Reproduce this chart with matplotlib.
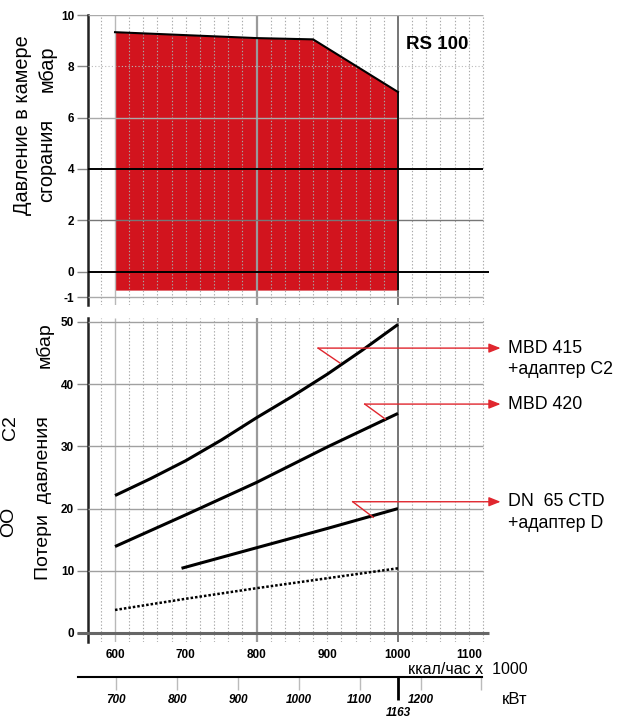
import matplotlib
matplotlib.use("Agg")
import matplotlib.pyplot as plt
import numpy as np

W, H = 623, 720
plt.rcParams['font.family'] = ['Liberation Sans', 'DejaVu Sans']
NARROW = ['Liberation Sans Narrow', 'Liberation Sans', 'DejaVu Sans']

# ---- data ----
fill_x = [600, 800, 880, 1000]
fill_top = [9.33, 9.10, 9.05, 7.0]
fill_bottom = -0.72

mbd415_x = [600, 650, 700, 750, 800, 850, 900, 950, 1000]
mbd415 = [22.1, 24.8, 27.7, 31.0, 34.6, 38.0, 41.6, 45.5, 49.6]
mbd420_x = [600, 700, 800, 900, 1000]
mbd420 = [13.9, 19.0, 24.2, 29.9, 35.3]
dn65_x = [694, 800, 900, 1000]
dn65 = [10.4, 13.7, 16.8, 20.0]
dotted_x = [600, 700, 800, 900, 1000]
dotted = [3.7, 5.5, 7.2, 8.8, 10.4]

top_yticks = [10, 8, 6, 4, 2, 0, -1]
bot_yticks = [0, 10, 20, 30, 40, 50]
kcal_ticks = [600, 700, 800, 900, 1000, 1100]
kw_ticks = [700, 800, 900, 1000, 1100, 1200, 1300]
kw_labels = ['700', '800', '900', '1000', '1100', '1200', '']
kw_mark = 1163
KW_PER_KCAL = 1.163

labels = [("MBD 415", "+адаптер C2"), ("MBD 420", None), ("DN  65 CTD", "+адаптер D")]
ann_start = [(887, 45.8), (953, 36.8), (936, 21.1)]
ann_end = [(918, 43.4), (982, 34.4), (965, 18.6)]

RED = '#d2141e'
ARROW_RED = '#e0262e'

fig = plt.figure(figsize=(W / 100, H / 100), dpi=100)

def rect(l, t, r, b):
    return [l / W, 1 - b / H, (r - l) / W, (b - t) / H]

def fx(x):
    return x / W

def fy(y):
    return 1 - y / H

XL = (561.8, 1132.9)
GRID_MAX = 1120

def vgrid(ax, y0, y1):
    for v in range(580, GRID_MAX + 1, 20):
        if v == 800:
            ax.vlines(v, y0, y1, color='#9a9a9a', lw=1.6, zorder=3)
        elif v == 1000:
            ax.vlines(v, y0, y1, color='#6a6a6a', lw=1.3, zorder=3)
        elif v == 600:
            ax.vlines(v, y0, y1, color='#b8b8b8', lw=1.0, zorder=3)
        else:
            ax.vlines(v, y0, y1, color='#a8a8a8', lw=0.8, ls=(0, (1.2, 1.8)), zorder=3)

# ---- top axes ----
ax1 = fig.add_axes(rect(88, 15, 492, 305))
ax1.set_xlim(*XL)
ax1.set_ylim(-1.3, 10.0)
for s in ['top', 'right', 'bottom']:
    ax1.spines[s].set_visible(False)
ax1.spines['left'].set_linewidth(1.8)
ax1.spines['left'].set_color('#222222')
ax1.set_xticks([])
ax1.set_yticks(top_yticks)
ax1.set_yticklabels([str(t) for t in top_yticks], family=NARROW, fontweight='bold', fontsize=8.5)
ax1.tick_params(axis='y', length=8, width=1, color='#888888', pad=2)

ax1.fill_between(fill_x, [fill_bottom] * len(fill_x), fill_top, color=RED, lw=0, zorder=2)
ax1.plot(fill_x, fill_top, color='black', lw=1.5, zorder=5)
ax1.vlines(fill_x[-1], fill_bottom, fill_top[-1], color='black', lw=1.2, zorder=5)
vgrid(ax1, -1.3, 10.0)
for v in top_yticks:
    if v in (4, 0):
        ax1.hlines(v, XL[0], 1128 if v == 0 else GRID_MAX, color='black', lw=1.4, zorder=4)
    elif v == 8:
        ax1.hlines(v, XL[0], GRID_MAX, color='#bbbbbb', lw=0.8, ls=(0, (1, 2)), zorder=4)
    elif v == 2:
        ax1.hlines(v, XL[0], GRID_MAX, color='#777777', lw=1.0, zorder=4)
    else:
        ax1.hlines(v, XL[0], GRID_MAX, color='#aaaaaa', lw=1.0, zorder=4)
ax1.text(1012, 8.85, "RS 100", fontsize=13.5, fontweight='bold', family=NARROW, ha='left', va='center')

# ---- bottom axes ----
ax2 = fig.add_axes(rect(88, 318, 492, 642))
ax2.set_xlim(*XL)
ax2.set_ylim(-1.45, 50.64)
for s in ['top', 'right', 'bottom']:
    ax2.spines[s].set_visible(False)
ax2.spines['left'].set_linewidth(1.8)
ax2.spines['left'].set_color('#222222')
ax2.set_yticks(bot_yticks)
ax2.set_yticklabels([str(t) for t in bot_yticks], family=NARROW, fontweight='bold', fontsize=8.5)
ax2.tick_params(axis='y', length=8, width=1, color='#888888', pad=2)
ax2.set_xticks(kcal_ticks)
ax2.set_xticklabels([str(t) for t in kcal_ticks], family=NARROW, fontweight='bold', fontsize=8.5)
ax2.tick_params(axis='x', length=0, pad=5)
vgrid(ax2, -1.45, 50.64)
for v in bot_yticks:
    if v == 0:
        ax2.hlines(v, XL[0] - 15, 1128, color='#666666', lw=2.2, zorder=4, clip_on=False)
    else:
        ax2.hlines(v, XL[0], GRID_MAX, color='#a0a0a0', lw=1.0, zorder=4)

ax2.plot(mbd415_x, mbd415, color='black', lw=2.2, zorder=6, solid_capstyle='butt')
ax2.plot(mbd420_x, mbd420, color='black', lw=2.2, zorder=6, solid_capstyle='butt')
ax2.plot(dn65_x, dn65, color='black', lw=2.2, zorder=6, solid_capstyle='butt')
ax2.plot(dotted_x, dotted, color='black', lw=1.8, ls=(0, (1.0, 0.8)), zorder=6)

for (lab1, lab2), (sx, sy), (ex, ey) in zip(labels, ann_start, ann_end):
    ax2.plot([sx, ex], [sy, ey], color=ARROW_RED, lw=1.0, zorder=7)
    ax2.annotate('', xy=(1145, sy), xytext=(sx, sy), annotation_clip=False,
                 arrowprops=dict(arrowstyle='-|>,head_length=0.7,head_width=0.28',
                                 color=ARROW_RED, lw=1.0, shrinkA=0, shrinkB=0), zorder=7)
    ax2.text(1156, sy, lab1, fontsize=12.8, ha='left', va='center', clip_on=False)
    if lab2:
        ax2.text(1156, sy - 3.5, lab2, fontsize=12.8, ha='left', va='center', clip_on=False)

# ---- kW axis ----
ax3 = fig.add_axes(rect(78, 676, 482, 677))
kcal_left = XL[0] - 10 / 0.7075
kcal_right = XL[0] + 394 / 0.7075
ax3.set_xlim(kcal_left * KW_PER_KCAL, kcal_right * KW_PER_KCAL)
ax3.set_ylim(0, 1)
for s in ['top', 'right', 'left']:
    ax3.spines[s].set_visible(False)
ax3.spines['bottom'].set_linewidth(1.5)
ax3.set_yticks([])
ax3.set_xticks(kw_ticks)
ax3.set_xticklabels(kw_labels, family=NARROW, fontweight='bold', style='italic', fontsize=8.5)
ax3.tick_params(axis='x', length=9, width=1, color='#bbbbbb', pad=3)
ax3.vlines(kw_mark, -23, 0, color='black', lw=2.0, clip_on=False)
ax3.text(kw_mark, -36, str(kw_mark), family=NARROW, fontweight='bold', style='italic', fontsize=8.5,
         ha='center', va='center', clip_on=False)

# ---- free texts ----
fig.text(fx(528), fy(669.5), "ккал/час x  1000", fontsize=11.5, ha='right', va='center')
fig.text(fx(515), fy(700), "кВт", fontsize=12, ha='center', va='center')
fig.text(fx(23), fy(125), "Давление в камере", fontsize=14.3, rotation=90, ha='center', va='center')
fig.text(fx(47), fy(160), "сгорания", fontsize=14.3, rotation=90, ha='center', va='center')
fig.text(fx(47), fy(69), "мбар", fontsize=14.3, rotation=90, ha='center', va='center')
fig.text(fx(44), fy(498), "Потери  давления", fontsize=14, rotation=90, ha='center', va='center')
fig.text(fx(44), fy(345), "мбар", fontsize=14, rotation=90, ha='center', va='center')
fig.text(fx(11), fy(428), "C2", fontsize=14, rotation=90, ha='center', va='center')
fig.text(fx(9), fy(522), "ОО", fontsize=14, rotation=90, ha='center', va='center')

fig.savefig("out.png", dpi=100)
